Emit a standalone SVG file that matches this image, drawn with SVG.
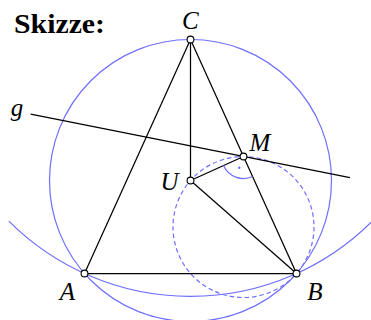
<svg xmlns="http://www.w3.org/2000/svg" width="371" height="320" viewBox="0 0 371 320">
<style>
.blue{fill:none;stroke:#6e6eff;stroke-width:1.2}
.dash{stroke-dasharray:4.5,3}
.line{stroke:#000;stroke-width:1.25;fill:none}
.pt{fill:#fff;stroke:#000;stroke-width:1.1}
.lbl{font-family:"Liberation Serif","Times New Roman",serif;font-style:italic;font-size:25px;fill:#000;text-anchor:middle}
.title{font-family:"Liberation Serif","Times New Roman",serif;font-weight:bold;font-size:28px;fill:#000}
</style>
<rect width="371" height="320" fill="#fff"/>
<text class="title" x="14" y="32.5" textLength="91" lengthAdjust="spacingAndGlyphs">Skizze:</text>
<g id="circles">
<circle id="umkreis" class="blue" cx="190.5" cy="180.5" r="141"/>
<path id="kreisC" class="blue" d="M 8.85 221.15 A 256.9 256.9 0 0 0 372.15 221.15"/>
<circle id="thales" class="blue dash" cx="243.5" cy="227" r="70.5"/>
</g>
<g id="connectors">
<line class="line" x1="84.5" y1="273.5" x2="296.5" y2="273.5"/>
<line class="line" x1="296.5" y1="273.5" x2="190.5" y2="39.5"/>
<line class="line" x1="190.5" y1="39.5" x2="84.5" y2="273.5"/>
<line class="line" x1="190.5" y1="39.5" x2="190.5" y2="180.5"/>
<line class="line" x1="190.5" y1="180.5" x2="243.5" y2="156.5"/>
<line class="line" x1="190.5" y1="180.5" x2="296.5" y2="273.5"/>
<line id="g" class="line" x1="30.7" y1="114.2" x2="350" y2="177.65"/>
<path class="blue" d="M 252.58 176.54 A 22 22 0 0 1 223.46 165.58"/>
<circle cx="239.27" cy="167.73" r="1.2" fill="#6e6eff"/>
</g>
<g id="nodeA"><circle class="pt" cx="84.5" cy="273.5" r="3.4"/><text class="lbl" x="67.5" y="300">A</text></g>
<g id="nodeB"><circle class="pt" cx="296.5" cy="273.5" r="3.4"/><text class="lbl" x="315" y="300">B</text></g>
<g id="nodeC"><circle class="pt" cx="190.5" cy="39.5" r="3.4"/><text class="lbl" x="190.3" y="28.5">C</text></g>
<g id="nodeU"><circle class="pt" cx="190.5" cy="180.5" r="3.4"/><text class="lbl" x="169.5" y="190">U</text></g>
<g id="nodeM"><circle class="pt" cx="243.5" cy="156.5" r="3.4"/><text class="lbl" x="260" y="151">M</text></g>
<g id="labelg"><text class="lbl" x="17" y="115.5">g</text></g>
</svg>
